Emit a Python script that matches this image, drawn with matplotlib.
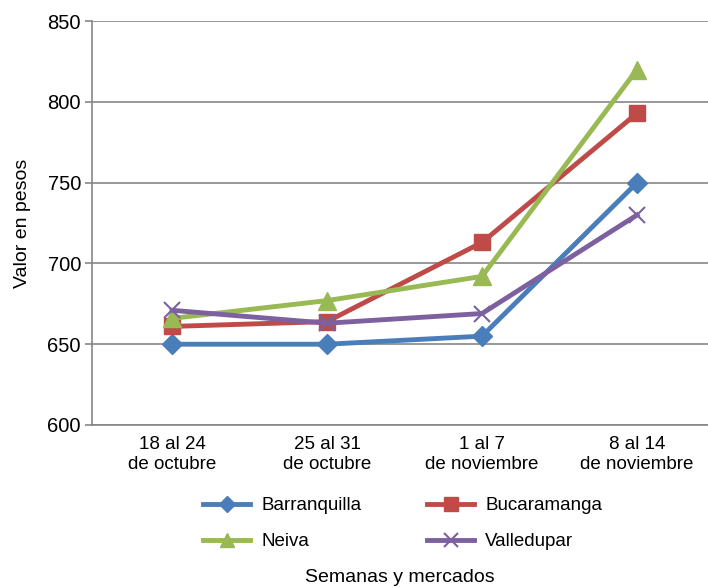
import matplotlib
matplotlib.use("Agg")
import matplotlib.pyplot as plt

plt.rcParams['font.family'] = ['Liberation Sans', 'DejaVu Sans']

categories = ["18 al 24\nde octubre", "25 al 31\nde octubre", "1 al 7\nde noviembre", "8 al 14\nde noviembre"]
barranquilla = [650, 650, 655, 750]
bucaramanga = [661, 664, 713, 793]
neiva = [666, 677, 692, 820]
valledupar = [671, 663, 669, 730]

fig = plt.figure(figsize=(7.08, 5.87), dpi=100)
ax = fig.add_axes([0.130, 0.276, 0.870, 0.688])

x = list(range(len(categories)))
h1, = ax.plot(x, barranquilla, color='#4A7EBB', lw=3.5, marker='D', ms=10, label='Barranquilla')
h2, = ax.plot(x, bucaramanga, color='#BE4B48', lw=3.5, marker='s', ms=12, label='Bucaramanga')
h3, = ax.plot(x, neiva, color='#98B954', lw=3.5, marker='^', ms=13, label='Neiva')
h4, = ax.plot(x, valledupar, color='#7D60A0', lw=3.5, marker='x', ms=12, mew=1.5, label='Valledupar')

ax.set_ylim(600, 850)
ax.set_yticks([600, 650, 700, 750, 800, 850])
ax.set_xlim(-0.516, 3.458)
ax.set_xticks(x)
ax.set_xticklabels(categories, fontsize=13.5)
ax.tick_params(axis='y', labelsize=14.5, length=5, color='#868686', width=1.2, pad=3)
ax.tick_params(axis='x', length=0, pad=8)
ax.yaxis.grid(True, color='#868686', lw=1.2)
ax.set_axisbelow(True)
for s in ['top', 'right']:
    ax.spines[s].set_visible(False)
for s in ['left', 'bottom']:
    ax.spines[s].set_color('#868686')
    ax.spines[s].set_linewidth(1.2)
ax.set_ylabel('Valor en pesos', fontsize=14, labelpad=12)

fig.legend(handles=[h1, h3, h2, h4], loc='center', bbox_to_anchor=(0.569, 0.108), ncol=2, frameon=False,
           fontsize=13.5, handlelength=2.5, handletextpad=0.6, columnspacing=3.5, labelspacing=1.0,
           markerscale=0.8)
fig.text(0.565, 0.016, 'Semanas y mercados', ha='center', va='center', fontsize=14)

fig.savefig('out.png', dpi=100)
